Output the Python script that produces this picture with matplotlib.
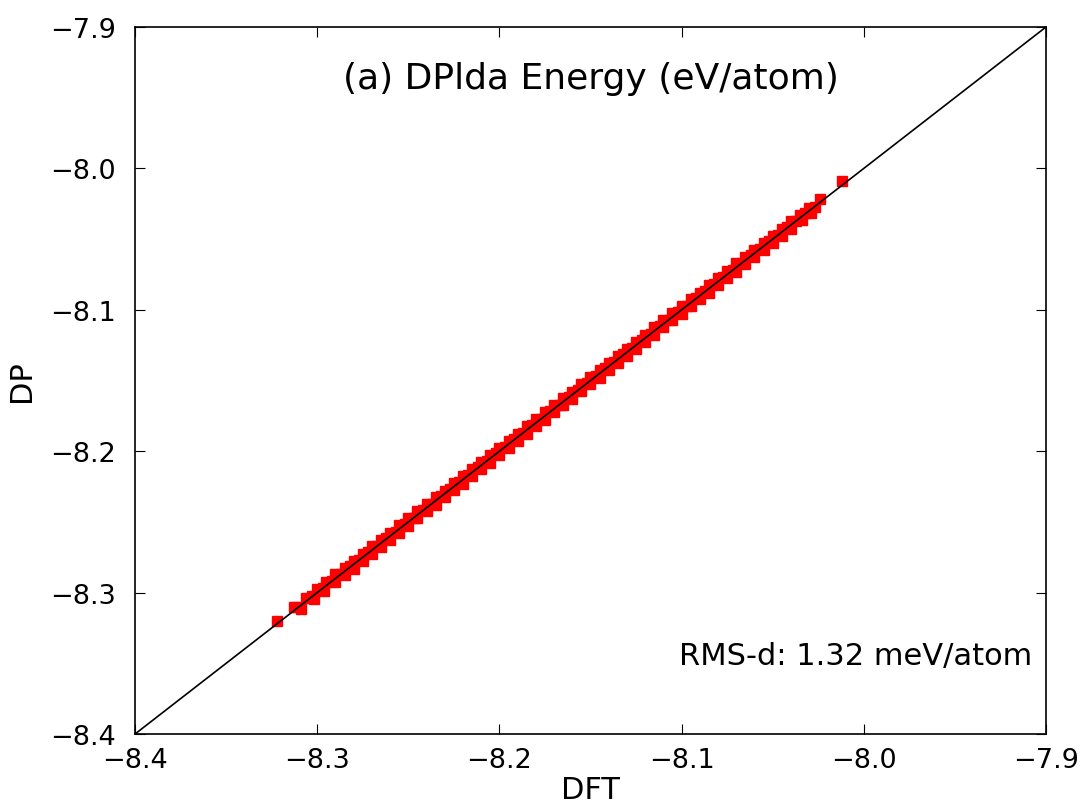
import matplotlib
matplotlib.use('Agg')
import matplotlib.pyplot as plt

# DFT vs DP energies (eV/atom)
dft_upper = [-8.322, -8.313, -8.306, -8.300, -8.295, -8.290, -8.285, -8.280, -8.275, -8.270,
             -8.265, -8.260, -8.255, -8.250, -8.245, -8.240, -8.235, -8.230, -8.225, -8.220,
             -8.215, -8.210, -8.205, -8.200, -8.195, -8.190, -8.185, -8.180, -8.175, -8.170,
             -8.165, -8.160, -8.155, -8.150, -8.145, -8.140, -8.135, -8.130, -8.125, -8.120,
             -8.115, -8.110, -8.105, -8.100, -8.095, -8.090, -8.085, -8.080, -8.075, -8.070,
             -8.065, -8.060, -8.055, -8.050, -8.045, -8.040, -8.035, -8.030, -8.024, -8.012]
dp_upper = [-8.320, -8.3105, -8.3035, -8.2975, -8.2925, -8.287, -8.2825, -8.2775, -8.2725, -8.267,
            -8.2625, -8.2575, -8.252, -8.2475, -8.2425, -8.2375, -8.2325, -8.228, -8.2225, -8.2175,
            -8.2125, -8.2075, -8.2025, -8.1975, -8.1925, -8.188, -8.1825, -8.1775, -8.1725, -8.1675,
            -8.1625, -8.158, -8.1525, -8.1475, -8.1425, -8.1375, -8.1325, -8.128, -8.1225, -8.1175,
            -8.1125, -8.1075, -8.1025, -8.0975, -8.0925, -8.088, -8.0825, -8.0775, -8.0725, -8.067,
            -8.0625, -8.0575, -8.0525, -8.0475, -8.0425, -8.0375, -8.033, -8.028, -8.0215, -8.009]

dft_mid = [-8.311, -8.303, -8.297, -8.292, -8.287, -8.282, -8.277, -8.272, -8.267, -8.262,
           -8.257, -8.252, -8.247, -8.242, -8.237, -8.232, -8.227, -8.222, -8.217, -8.212,
           -8.207, -8.202, -8.197, -8.192, -8.187, -8.182, -8.177, -8.172, -8.167, -8.162,
           -8.157, -8.152, -8.147, -8.142, -8.137, -8.132, -8.127, -8.122, -8.117, -8.112,
           -8.107, -8.102, -8.097, -8.092, -8.087, -8.082, -8.077, -8.072, -8.067, -8.062,
           -8.057, -8.052, -8.047, -8.042, -8.037, -8.032, -8.027]
dp_mid = [-8.3105, -8.3025, -8.297, -8.2915, -8.287, -8.2815, -8.277, -8.2715, -8.267, -8.2615,
          -8.257, -8.2515, -8.247, -8.2415, -8.237, -8.2315, -8.227, -8.2215, -8.217, -8.2115,
          -8.207, -8.2015, -8.197, -8.1915, -8.187, -8.1815, -8.177, -8.1715, -8.167, -8.1615,
          -8.157, -8.1515, -8.147, -8.1415, -8.137, -8.1315, -8.127, -8.1215, -8.117, -8.1115,
          -8.107, -8.1015, -8.097, -8.0915, -8.087, -8.0815, -8.077, -8.0715, -8.067, -8.0615,
          -8.057, -8.0515, -8.047, -8.0415, -8.037, -8.0315, -8.027]

dft_lower = [-8.309, -8.302, -8.296, -8.290, -8.285, -8.280, -8.275, -8.270, -8.265, -8.260,
             -8.255, -8.250, -8.245, -8.240, -8.235, -8.230, -8.225, -8.220, -8.215, -8.210,
             -8.205, -8.200, -8.195, -8.190, -8.185, -8.180, -8.175, -8.170, -8.165, -8.160,
             -8.155, -8.150, -8.145, -8.140, -8.135, -8.130, -8.125, -8.120, -8.115, -8.110,
             -8.105, -8.100, -8.095, -8.090, -8.085, -8.080, -8.075, -8.070, -8.065, -8.060,
             -8.055, -8.050, -8.045, -8.040, -8.034, -8.029]
dp_lower = [-8.3115, -8.3045, -8.299, -8.2925, -8.2875, -8.283, -8.2775, -8.2725, -8.268, -8.2625,
            -8.2575, -8.253, -8.2475, -8.2425, -8.238, -8.2325, -8.2275, -8.223, -8.2175, -8.2125,
            -8.208, -8.2025, -8.1975, -8.193, -8.1875, -8.1825, -8.178, -8.1725, -8.1675, -8.163,
            -8.1575, -8.1525, -8.148, -8.1425, -8.1375, -8.133, -8.1275, -8.1225, -8.118, -8.1125,
            -8.1075, -8.103, -8.0975, -8.0925, -8.088, -8.0825, -8.0775, -8.073, -8.0675, -8.0625,
            -8.058, -8.0525, -8.0475, -8.043, -8.0365, -8.0315]

lims = [-8.4, -7.9]
ticks = [-8.4, -8.3, -8.2, -8.1, -8.0, -7.9]

fig = plt.figure(figsize=(10.81, 8.12), dpi=100)
ax = fig.add_axes([0.1249, 0.0948, 0.8427, 0.8707])

for xs, ys in [(dft_upper, dp_upper), (dft_mid, dp_mid), (dft_lower, dp_lower)]:
    ax.plot(xs, ys, 's', color='red', mec='red', ms=7.6)
ax.plot(lims, lims, color='black', lw=1.2)

ax.set_xlim(lims)
ax.set_ylim(lims)
ax.set_xticks(ticks)
ax.set_yticks(ticks)
ax.tick_params(direction='in', top=True, right=True, labelsize=19.5, length=7)
ax.tick_params(axis='x', pad=9)
ax.tick_params(axis='y', pad=14)
for s in ax.spines.values():
    s.set_linewidth(1.2)

ax.set_xlabel('DFT', fontsize=22, labelpad=2)
ax.set_ylabel('DP', fontsize=22, labelpad=10)

ax.text(0.5, 0.928, '(a) DPlda Energy (eV/atom)', transform=ax.transAxes,
        ha='center', va='center', fontsize=26)
ax.text(0.985, 0.111, 'RMS-d: 1.32 meV/atom', transform=ax.transAxes,
        ha='right', va='center', fontsize=22)

fig.savefig('out.png', dpi=100)
